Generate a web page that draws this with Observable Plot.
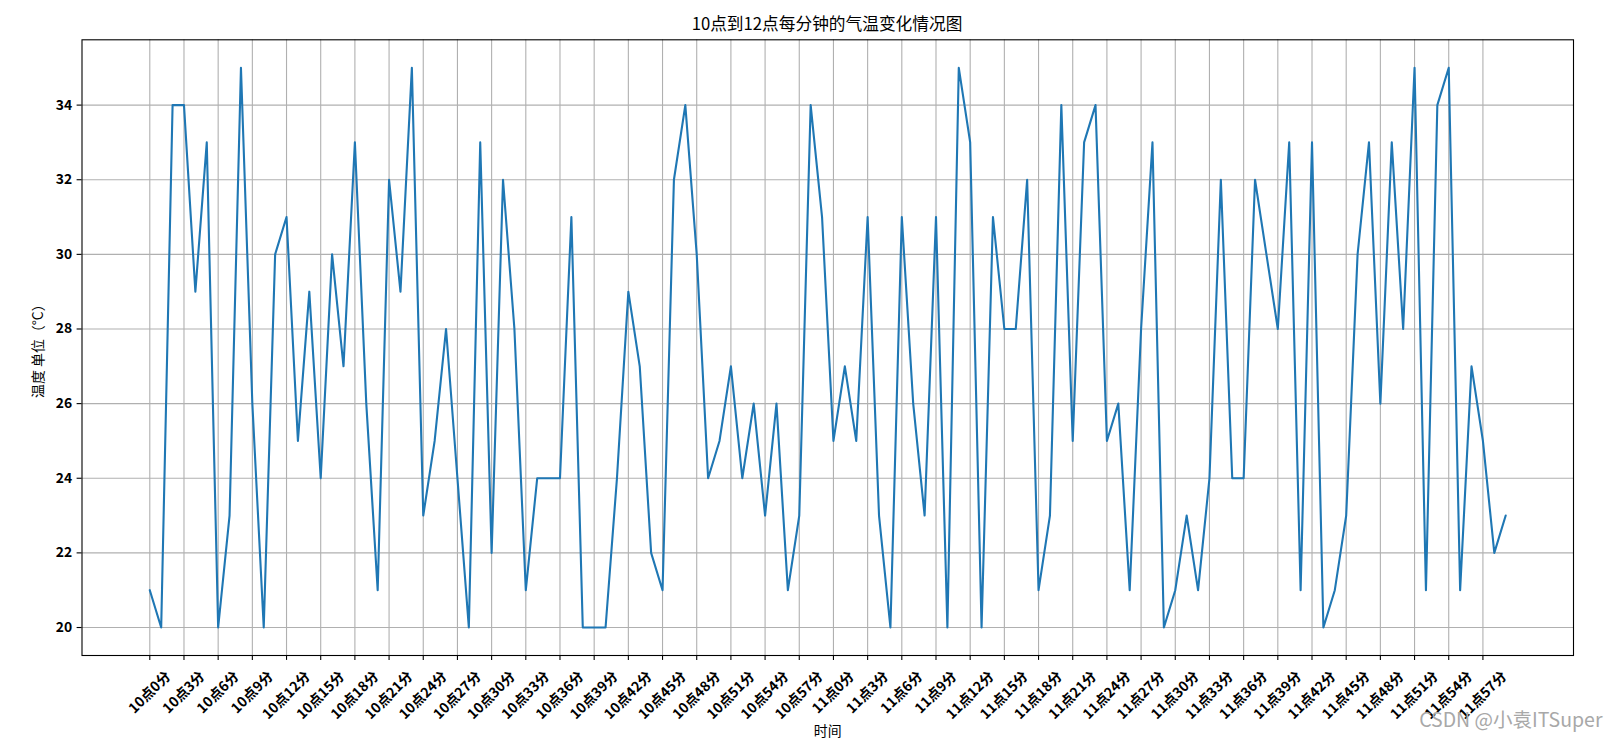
<!DOCTYPE html>
<html>
<head>
<meta charset="utf-8">
<script src="https://cdn.jsdelivr.net/npm/d3@7"></script>
<script src="https://cdn.jsdelivr.net/npm/@observablehq/plot@0.6"></script>
<style>
  html, body { margin: 0; padding: 0; background: #fff; }
  #title { width: 1618px; height: 30px; box-sizing: border-box; padding-left: 36px; text-align: center;
           line-height: 46px; font-family: "Noto Sans CJK SC", sans-serif; font-size: 16.7px; color: #000; white-space: nowrap; }
  #chart svg { display: block; }
</style>
</head>
<body>
<div id="title">10点到12点每分钟的气温变化情况图</div>
<div id="chart"></div>
<script>
const hours = [10, 11];
const minutesPerHour = 60;
const times = hours.flatMap(h => d3.range(minutesPerHour).map(m => `${h}点${m}分`));

const temps = [
  21,20,34,34,29,33,20,23,35,26,
  20,30,31,25,29,24,30,27,33,26,
  21,32,29,35,23,25,28,24,20,33,
  22,32,28,21,24,24,24,31,20,20,
  20,24,29,27,22,21,32,34,30,24,
  25,27,24,26,23,26,21,23,34,31,
  25,27,25,31,23,20,31,26,23,31,
  20,35,33,20,31,28,28,32,21,23,
  34,25,33,34,25,26,21,28,33,20,
  21,23,21,24,32,24,24,32,30,28,
  33,21,33,20,21,23,30,33,26,33,
  28,35,21,34,35,21,27,25,22,23
];

const xTicks = d3.range(0, times.length, 3);
const yTicks = [20, 22, 24, 26, 28, 30, 32, 34];
const title = "10点到12点每分钟的气温变化情况图";
const xLabel = "时间";
const yLabel = "温度 单位（°C）";
const watermark = "CSDN @小袁ITSuper";

const data = temps.map((t, i) => ({i, t}));
const shortTicks = xTicks.filter(i => times[i].replace(/\d+点/, "").length <= 2);
const longTicks = xTicks.filter(i => times[i].replace(/\d+点/, "").length > 2);

const font = '"Noto Sans CJK SC", sans-serif';
const n = temps.length;
const pad = (n - 1) * 0.05;

const chart = Plot.plot({
  width: 1618,
  height: 710,
  marginLeft: 81.5,
  marginRight: 45,
  marginTop: 9.3,
  marginBottom: 85,
  style: {fontFamily: font, color: "#000", background: "#fff", overflow: "visible"},
  x: {domain: [-pad, n - 1 + pad]},
  y: {domain: [19.25, 35.75]},
  marks: [
    Plot.gridX(xTicks, {stroke: "#b0b0b0", strokeOpacity: 1, strokeWidth: 1.1}),
    Plot.gridY(yTicks, {stroke: "#b0b0b0", strokeOpacity: 1, strokeWidth: 1.1}),
    Plot.line(data, {x: "i", y: "t", stroke: "#1f77b4", strokeWidth: 2.1}),
    Plot.frame({stroke: "#000", strokeWidth: 1.1}),
    Plot.axisX({ticks: xTicks, tickSize: 4.9, tickFormat: () => "", label: null, strokeWidth: 1.1}),
    Plot.axisY({ticks: yTicks, tickSize: 4.9, tickPadding: 4.9, tickFormat: d => String(d), label: null,
                fontSize: 13.9, fontWeight: "bold", strokeWidth: 1.1}),
    Plot.text(shortTicks, {x: d => d, text: d => times[d], frameAnchor: "bottom", dy: 37, rotate: -45,
                textAnchor: "middle", lineAnchor: "middle", fontSize: 13.9, fontWeight: "bold"}),
    Plot.text(longTicks, {x: d => d, text: d => times[d], frameAnchor: "bottom", dy: 40, rotate: -45,
                textAnchor: "middle", lineAnchor: "middle", fontSize: 13.9, fontWeight: "bold"}),
    Plot.text([xLabel], {text: d => d, frameAnchor: "bottom", dy: 76, fontSize: 13.9, lineAnchor: "middle"}),
    Plot.text([yLabel], {text: d => d, frameAnchor: "left", dx: -43, rotate: -90, fontSize: 13.9,
                textAnchor: "middle", lineAnchor: "middle"}),
    Plot.text([watermark], {text: d => d, frameAnchor: "bottom-right", dx: 29, dy: 65, textAnchor: "end",
                lineAnchor: "middle", fontSize: 19.5, fill: "#a8a8a8", fontFamily: font})
  ]
});
document.getElementById("chart").appendChild(chart);
</script>
</body>
</html>
